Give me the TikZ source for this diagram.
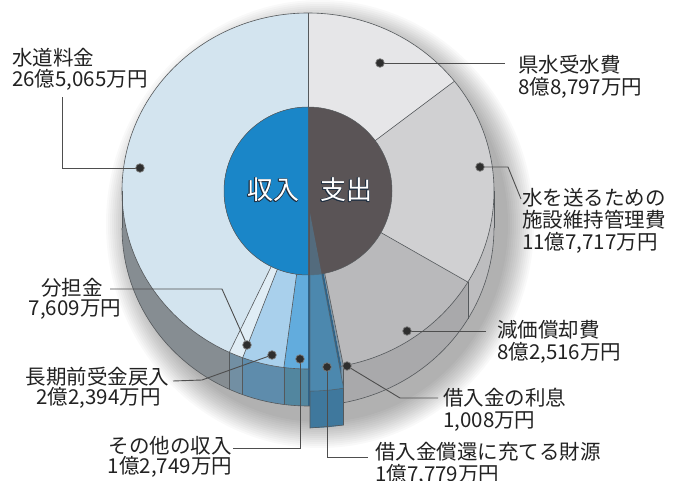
\documentclass[tikz,border=0pt]{standalone}
\usepackage{fontspec}
\setmainfont{Noto Sans CJK JP}
\definecolor{suidoT}{HTML}{D3E4EF}
\definecolor{suidoS}{HTML}{868D92}
\definecolor{buntanT}{HTML}{E0EDF5}
\definecolor{buntanS}{HTML}{728FA3}
\definecolor{chokiT}{HTML}{A9D0EC}
\definecolor{chokiS}{HTML}{5E8CAC}
\definecolor{sonotaT}{HTML}{62ACDD}
\definecolor{sonotaS}{HTML}{52869F}
\definecolor{shokanT}{HTML}{4C88AE}
\definecolor{shokanS}{HTML}{3F789D}
\definecolor{holeC}{HTML}{2F6388}
\definecolor{risokuT}{HTML}{7E97A9}
\definecolor{genkaT}{HTML}{B9B9BB}
\definecolor{genkaS}{HTML}{A9A9AB}
\definecolor{shisetsuT}{HTML}{D0D0D2}
\definecolor{shisetsuS}{HTML}{BDBDBF}
\definecolor{kensuiT}{HTML}{E6E6E8}
\definecolor{innerL}{HTML}{1A86C8}
\definecolor{innerR}{HTML}{5A5456}
\definecolor{seamc}{HTML}{55595C}
\definecolor{leadc}{HTML}{4E4E4E}
\definecolor{dotc}{HTML}{2E2E2E}
\definecolor{dotr}{HTML}{7A7A7A}
\definecolor{txtc}{HTML}{222222}
\definecolor{olc}{HTML}{1E2E40}
\definecolor{whitec}{HTML}{FFFFFF}
\newcommand\topsl[3]{\fill[#3] (308,191) -- plot[domain=#1:#2, samples=40, variable=\t] ({308+186*cos(\t)},{191-178*sin(\t)}) -- cycle;}
\newcommand\sidesl[3]{\fill[#3] plot[domain=#1:#2, samples=40, variable=\t] ({308+186*cos(\t)},{191-178*sin(\t)}) -- plot[domain=#2:#1, samples=40, variable=\t] ({308+186*cos(\t)},{228-178*sin(\t)}) -- cycle;}
\newcommand\radln[1]{\draw[seam] (308,191) -- ({308+186*cos(#1)},{191-178*sin(#1)});}
\newcommand\sideln[1]{\draw[seam] ({308+186*cos(#1)},{191-178*sin(#1)}) -- ({308+186*cos(#1)},{228-178*sin(#1)});}
\newcommand\outl[4]{%
  \foreach \dx/\dy in {-0.7/0,0.7/0,0/-0.7,0/0.7,-0.5/-0.5,0.5/0.5,-0.5/0.5,0.5/-0.5}{\node[inl, text=olc] at ({#1+\dx},{#2+\dy}) {#3};}
  \node[inl, text=whitec] (#4) at (#1,#2) {#3};}
\begin{document}
\begin{tikzpicture}[x=1pt,y=-1pt,
  lead/.style={draw=leadc, line width=0.9pt},
  dotn/.style={circle, fill=dotc, draw=dotr, line width=0.7pt, minimum size=8.6pt, inner sep=0pt},
  lbl/.style={anchor=base west, inner sep=0pt, text=txtc, font=\fontsize{20.5}{22}\selectfont},
  lblc/.style={lbl, anchor=base},
  inl/.style={inner sep=0pt, font=\fontsize{26}{26}\selectfont},
  seam/.style={draw=seamc, line width=0.6pt}]
\useasboundingbox (0,0) rectangle (675,481);
\fill[white] (0,0) rectangle (675,481);
% shadow
\foreach \i in {1,...,14}{\fill[black, opacity=0.022] (320,224) ellipse [x radius={186+2*\i}, y radius={196+2*\i}];}
% side faces
\sidesl{180}{245}{suidoS}
\sidesl{245}{249.45}{buntanS}
\sidesl{249.45}{262.55}{chokiS}
\sidesl{262.55}{270}{sonotaS}
\sidesl{270}{280.39}{holeC}
\sidesl{280.39}{280.98}{risokuT}
\sidesl{280.98}{329.23}{genkaS}
\sidesl{329.23}{360}{shisetsuS}
% top faces
\topsl{90}{245}{suidoT}
\topsl{245}{249.45}{buntanT}
\topsl{249.45}{262.55}{chokiT}
\topsl{262.55}{270}{sonotaT}
\topsl{270}{280.39}{holeC}
\topsl{280.39}{280.98}{risokuT}
\topsl{-79.02}{-30.77}{genkaT}
\topsl{-30.77}{38.07}{shisetsuT}
\topsl{38.07}{90}{kensuiT}
% seams
\foreach \a in {90,245,249.45,262.55,280.98,-30.77,38.07}{\radln{\a}}
\foreach \a in {245,249.45,262.55,280.98,329.23}{\sideln{\a}}
\draw[seam] (308,191) ellipse [x radius=186, y radius=178];
\draw[seam] plot[domain=180:360, samples=80, variable=\t] ({308+186*cos(\t)},{228-178*sin(\t)});
\draw[seam] (122,191) -- (122,228);
\draw[seam] (494,191) -- (494,228);
% exploded slice
\fill[shokanS] plot[domain=270:280.39, samples=20, variable=\t] ({310+186*cos(\t)},{213-178*sin(\t)}) -- plot[domain=280.39:270, samples=20, variable=\t] ({310+186*cos(\t)},{250-178*sin(\t)}) -- cycle;
\fill[shokanT] (310,213) -- plot[domain=270:280.39, samples=20, variable=\t] ({310+186*cos(\t)},{213-178*sin(\t)}) -- cycle;
\draw[seam] (310,213) -- (310,428) -- ({310+186*cos(280.39)},{250-178*sin(280.39)}) -- ({310+186*cos(280.39)},{213-178*sin(280.39)}) -- cycle;
\draw[seam] plot[domain=270:280.39, samples=20, variable=\t] ({310+186*cos(\t)},{213-178*sin(\t)});
% inner disc
\fill[innerR] (308,191) circle [radius=84];
\begin{scope}
\clip (220,100) rectangle (308,280);
\fill[innerL] (308,191) circle [radius=84];
\end{scope}
\draw[seamc, line width=0.5pt] (308,191) circle [radius=84];
\fill[shokanT, opacity=0.45] (310,213) -- plot[domain=270:280.39, samples=20, variable=\t] ({310+186*cos(\t)},{213-178*sin(\t)}) -- cycle;
\outl{273}{190}{収入}{tIn}
\outl{346}{190}{支出}{tOut}
% leader ends
\coordinate (eSui) at (62,97);
\coordinate (eKen) at (505,63);
\coordinate (kShi) at (508,167);
\coordinate (eShi) at (521,199);
\coordinate (eGen) at (486,331);
\coordinate (kRis) at (400,398);
\coordinate (eRis) at (438,398);
\coordinate (eSho) at (368,457);
\coordinate (eSon) at (233,448);
\coordinate (kCho) at (202,380);
\coordinate (eCho) at (173,381);
\coordinate (kBun) at (222,289);
\coordinate (eBun) at (110,289);
% dot anchors
\coordinate (pSui) at (140,168);
\coordinate (pKen) at (380,63);
\coordinate (pShi) at (480,167);
\coordinate (pGen) at (407,331);
\coordinate (pRis) at (347,366);
\coordinate (pSho) at (327,367);
\coordinate (pSon) at (300,359);
\coordinate (pCho) at (272,355);
\coordinate (pBun) at (247,345);
\draw[lead] (pSui) -| (eSui);
\draw[lead] (pKen) -- (eKen);
\draw[lead] (pShi) -- (kShi) -- (eShi);
\draw[lead] (pGen) -- (eGen);
\draw[lead] (pRis) -- (kRis) -- (eRis);
\draw[lead] (pSho) |- (eSho);
\draw[lead] (pSon) |- (eSon);
\draw[lead] (pCho) -- (kCho) -- (eCho);
\draw[lead] (pBun) -- (kBun) -- (eBun);
% dots
\node[dotn] (dSui) at (pSui) {};
\node[dotn] (dKen) at (pKen) {};
\node[dotn] (dShi) at (pShi) {};
\node[dotn] (dGen) at (pGen) {};
\node[dotn] (dRis) at (pRis) {};
\node[dotn] (dSho) at (pSho) {};
\node[dotn] (dSon) at (pSon) {};
\node[dotn] (dCho) at (pCho) {};
\node[dotn] (dBun) at (pBun) {};
% labels
\node[lbl] (tSui1) at (12,66) {水道料金};
\node[lbl] (tSui2) at (12,87) {26億5,065万円};
\node[lbl] (tKen1) at (518,72.5) {県水受水費};
\node[lbl] (tKen2) at (518,94.5) {8億8,797万円};
\node[lbl] (tShi1) at (522,205.5) {水を送るための};
\node[lbl] (tShi2) at (522,227.5) {施設維持管理費};
\node[lbl] (tShi3) at (522,249.5) {11億7,717万円};
\node[lbl] (tGen1) at (497,337.5) {減価償却費};
\node[lbl] (tGen2) at (497,359.5) {8億2,516万円};
\node[lbl] (tRis1) at (443,405.5) {借入金の利息};
\node[lbl] (tRis2) at (443,427.5) {1,008万円};
\node[lbl] (tSho1) at (375,459.5) {借入金償還に充てる財源};
\node[lbl] (tSho2) at (375,481.5) {1億7,779万円};
\node[lblc] (tBun1) at (72,295) {分担金};
\node[lblc] (tBun2) at (75,315) {7,609万円};
\node[lblc] (tCho1) at (97.5,384.5) {長期前受金戻入};
\node[lblc] (tCho2) at (98.5,404.5) {2億2,394万円};
\node[lblc] (tSon1) at (170,453.5) {その他の収入};
\node[lblc] (tSon2) at (170,473.5) {1億2,749万円};
\end{tikzpicture}
\end{document}
